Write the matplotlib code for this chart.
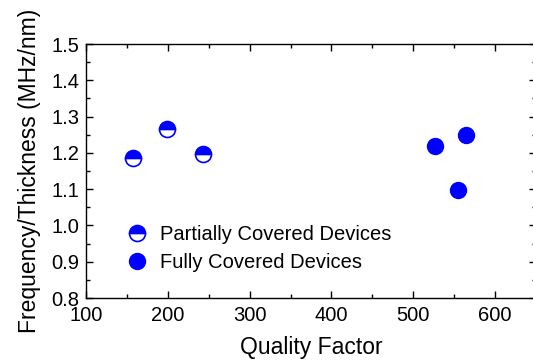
import matplotlib
matplotlib.use("Agg")
import matplotlib.pyplot as plt
from matplotlib.ticker import MultipleLocator

plt.rcParams['font.family'] = ['Liberation Sans', 'DejaVu Sans']

# data
partial_q = [158, 199, 243]
partial_ft = [1.187, 1.266, 1.198]
full_q = [527, 555, 565]
full_ft = [1.218, 1.099, 1.250]

fig = plt.figure(figsize=(5.33, 3.64), dpi=100)
ax = fig.add_axes([86 / 533, 1 - 298 / 364, (536 - 86) / 533, (298 - 44) / 364])

ax.plot(partial_q, partial_ft, 'o', ms=11.5, color='blue', fillstyle='top',
        markerfacecolor='blue', markerfacecoloralt='white', markeredgecolor='blue',
        markeredgewidth=1.2, label='Partially Covered Devices', clip_on=False)
ax.plot(full_q, full_ft, 'o', ms=11.5, color='blue', markeredgecolor='blue',
        label='Fully Covered Devices', clip_on=False)

ax.set_xlim(100, 650)
ax.set_ylim(0.8, 1.5)
ax.xaxis.set_major_locator(MultipleLocator(100))
ax.xaxis.set_minor_locator(MultipleLocator(50))
ax.yaxis.set_major_locator(MultipleLocator(0.1))
ax.yaxis.set_minor_locator(MultipleLocator(0.05))
ax.tick_params(which='both', direction='in', top=True, right=True, labelsize=14.5, width=1)
ax.tick_params(which='major', length=5)
ax.tick_params(which='minor', length=3)
ax.tick_params(axis='x', which='major', pad=6)
ax.tick_params(axis='y', which='major', pad=5)
ax.yaxis.set_major_formatter(plt.FormatStrFormatter('%.1f'))
for s in ax.spines.values():
    s.set_linewidth(1)

ax.set_xlabel('Quality Factor', fontsize=16.5, labelpad=8)
ax.set_ylabel('Frequency/Thickness (MHz/nm)', fontsize=16.5, labelpad=7)

ax.legend(loc='lower left', bbox_to_anchor=(0.04, 0.03), frameon=False, fontsize=14.5,
          handletextpad=0.4, labelspacing=0.45, markerscale=1.0, handlelength=1.5)

fig.savefig('out.png', dpi=100)
